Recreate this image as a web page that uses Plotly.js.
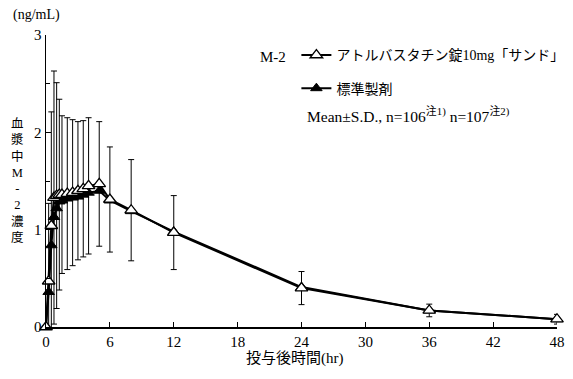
<!DOCTYPE html>
<html><head><meta charset="utf-8">
<script src="https://cdn.plot.ly/plotly-3.0.1.min.js"></script>
<style>body{margin:0;padding:0;background:#fff}#chart{width:573px;height:379px}</style>
</head><body><div id="chart"></div>
<script>
// Time points (hr)
const times = [0, 0.25, 0.5, 0.75, 1, 1.25, 1.5, 2, 2.5, 3, 3.5, 4, 5, 6, 8, 12, 24, 36, 48];
// アトルバスタチン錠10mg「サンド」 M-2 mean (ng/mL)
const testMean = [0, 0.47, 1.04, 1.33, 1.35, 1.36, 1.36, 1.37, 1.38, 1.40, 1.42, 1.45, 1.47, 1.31, 1.20, 0.97, 0.40, 0.17, 0.08];
// S.D.
const testSD = [0, 0.80, 1.17, 1.30, 1.16, 0.98, 0.81, 0.78, 0.75, 0.71, 0.70, 0.70, 0.64, 0.54, 0.52, 0.38, 0.17, 0.065, 0.05];
// 標準製剤 M-2 mean (ng/mL)
const refMean = [0, 0.36, 0.84, 1.13, 1.22, 1.29, 1.30, 1.32, 1.33, 1.34, 1.36, 1.38, 1.40, 1.30, 1.19, 0.98, 0.41, 0.17, 0.08];
const xTicks = [0, 6, 12, 18, 24, 30, 36, 42, 48];
const yTicks = [0, 1, 2, 3];

const serif = "Liberation Serif, Noto Sans CJK JP, serif";
const cjk = "Liberation Serif, Noto Sans CJK JP, sans-serif";

const traces = [
  {
    x: times, y: refMean, type: 'scatter', mode: 'lines+markers',
    name: '標準製剤', legendgroup: 'b', legendrank: 2,
    line: {color: '#000', width: 2},
    marker: {symbol: 'triangle-up', size: 10, color: '#000', line: {color: '#000', width: 1}},
    cliponaxis: false
  },
  {
    x: times, y: testMean, type: 'scatter', mode: 'lines+markers',
    name: 'アトルバスタチン錠10mg「サンド」', legendgroup: 'a', legendrank: 1,
    line: {color: '#000', width: 2},
    marker: {symbol: 'triangle-up', size: 11, color: '#fff', line: {color: '#000', width: 1.3}},
    error_y: {type: 'data', array: testSD, visible: true, color: '#000', thickness: 1, width: 3},
    cliponaxis: false
  }
];

const layout = {
  width: 573, height: 379,
  margin: {l: 46, r: 16, t: 35, b: 52, autoexpand: false},
  paper_bgcolor: '#fff', plot_bgcolor: '#fff',
  font: {family: serif, size: 14, color: '#000'},
  showlegend: true,
  legend: {
    x: 0.49, y: 0.985, xanchor: 'left', yanchor: 'top',
    traceorder: 'grouped', tracegroupgap: 12,
    font: {family: cjk, size: 14, color: '#000'},
    bgcolor: 'rgba(0,0,0,0)'
  },
  xaxis: {
    range: [0, 48], tickvals: xTicks, ticktext: xTicks.map(String),
    ticks: 'inside', ticklen: 5, tickcolor: '#000', tickwidth: 1,
    showline: true, linecolor: '#000', linewidth: 1.5,
    showgrid: false, zeroline: false, mirror: false,
    tickfont: {family: serif, size: 15, color: '#000'}
  },
  yaxis: {
    range: [0, 3], tickvals: yTicks, ticktext: yTicks.map(String),
    ticks: 'inside', ticklen: 5, tickcolor: '#000', tickwidth: 1,
    minor: {dtick: 0.5, ticks: 'inside', ticklen: 4, tickcolor: '#000', showgrid: false},
    showline: true, linecolor: '#000', linewidth: 1.5,
    showgrid: false, zeroline: false,
    tickfont: {family: serif, size: 15, color: '#000'}
  },
  annotations: [
    {text: '(ng/mL)', xref: 'paper', yref: 'paper', x: -0.068, y: 1.07, xanchor: 'left', yanchor: 'middle', showarrow: false, font: {family: serif, size: 14}},
    {text: '血<br>漿<br>中<br>M<br>-<br>2<br>濃<br>度', xref: 'paper', yref: 'paper', x: -0.055, y: 0.50, xanchor: 'center', yanchor: 'middle', showarrow: false, font: {family: cjk, size: 12.5}},
    {text: '投与後時間(hr)', xref: 'paper', yref: 'paper', x: 0.487, y: -0.107, xanchor: 'center', yanchor: 'middle', showarrow: false, font: {family: cjk, size: 15}},
    {text: 'M-2', xref: 'paper', yref: 'paper', x: 0.415, y: 0.925, xanchor: 'left', yanchor: 'middle', showarrow: false, font: {family: serif, size: 15}},
    {text: 'Mean±S.D., n=106<sup>注1)</sup> n=107<sup>注2)</sup>', xref: 'paper', yref: 'paper', x: 0.506, y: 0.726, xanchor: 'left', yanchor: 'middle', showarrow: false, font: {family: cjk, size: 15.5}}
  ]
};

Plotly.newPlot('chart', traces, layout, {displayModeBar: false, staticPlot: true});
</script>
</body></html>
